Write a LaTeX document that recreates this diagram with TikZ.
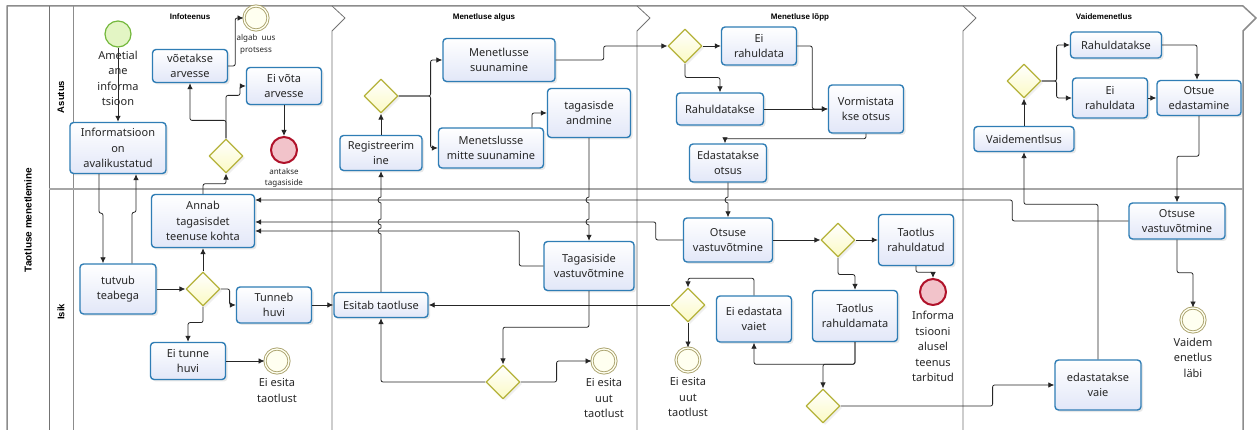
\documentclass[tikz,border=0pt]{standalone}
\usepackage{fontspec}
\setmainfont{Noto Sans}
\newfontfamily\titlefont{Liberation Sans}
\usetikzlibrary{arrows.meta, calc, positioning, shapes.geometric, shadows}

\definecolor{taskline}{HTML}{2F7DB5}
\definecolor{taskfill}{HTML}{E2E7F8}
\definecolor{gateline}{HTML}{B5B23A}
\definecolor{gatefill}{HTML}{FBFAC4}
\definecolor{startline}{HTML}{74B83C}
\definecolor{startfill}{HTML}{E3F5C4}
\definecolor{endline}{HTML}{A9A16C}
\definecolor{endfill}{HTML}{FFFFF0}
\definecolor{stopline}{HTML}{B0122A}
\definecolor{stopfill}{HTML}{F2C3CA}
\definecolor{poolline}{HTML}{8C8C8C}

\begin{document}
\begin{tikzpicture}[x=1pt, y=-1pt, >=Latex, line join=round,
	font=\fontsize{11}{15.5}\selectfont,
	task/.style={draw=taskline, line width=1.4pt, rounded corners=3.5pt,
		top color=white, bottom color=taskfill, align=center, inner sep=2pt, text=black!85,
		drop shadow={opacity=0.18, shadow xshift=2pt, shadow yshift=-2pt}},
	gate/.style={diamond, draw=gateline, line width=1.2pt, top color=white, bottom color=gatefill,
		minimum width=34pt, minimum height=34pt, inner sep=0pt,
		drop shadow={opacity=0.12, shadow xshift=2pt, shadow yshift=-2pt}},
	startev/.style={circle, draw=startline, line width=1.2pt, fill=startfill, minimum size=26pt, inner sep=0pt},
	endev/.style={circle, draw=endline, line width=0.9pt, double=endfill, double distance=1.3pt,
		fill=endfill, minimum size=24pt, inner sep=0pt},
	stopev/.style={circle, draw=stopline, line width=2pt, fill=stopfill, minimum size=26pt, inner sep=0pt},
	evtext/.style={align=center, inner sep=1pt, text=black!85},
	smalltext/.style={font=\fontsize{8}{11.5}\selectfont},
	flow/.style={draw=black!85, line width=0.8pt, -{Latex[length=6pt,width=5.5pt]}, rounded corners=2pt},
	phasetitle/.style={font=\titlefont\fontsize{8}{10}\selectfont\bfseries},
	lanetitle/.style={font=\titlefont\fontsize{9.5}{11}\selectfont\bfseries, rotate=90},
	pool/.style={draw=poolline, line width=1.5pt},
	phasesep/.style={draw=black!55, line width=0.8pt}]
	
	\fill[white] (0,0) rectangle (1259,430);
	\useasboundingbox (0,0) rectangle (1259,430);
	
	% ===== Pool, lanes and phases =====
	\draw[pool] (7,436) -- (7,6) -- (1243,6) -- (1256,18) -- (1243,31) -- (1243,436);
	\draw[phasesep] (49,6) -- (49,436);
	\draw[pool, line width=0.8pt] (73,6) -- (73,436);
	\draw[pool, draw=black!35, line width=1.6pt] (49,189) -- (1243,189);
	\foreach \sx in {332,637,963}
		\draw[phasesep] (\sx,6) -- (\sx+13,18) -- (\sx,31) -- (\sx,436);
	
	\node[lanetitle, font=\titlefont\fontsize{10}{12}\selectfont\bfseries] (pooltitle) at (28,220) {Taotluse menetlemine};
	\node[lanetitle] (lasutus) at (61,97) {Asutus};
	\node[lanetitle] (lisik) at (61,312) {Isik};
	\node[phasetitle] (ph1) at (190,17) {Infoteenus};
	\node[phasetitle] (ph2) at (484,17) {Menetluse algus};
	\node[phasetitle] (ph3) at (800,17) {Menetluse lõpp};
	\node[phasetitle] (ph4) at (1104,17) {Vaidemenetlus};
	
	% ===== Infoteenus =====
	\node[startev] (start) at (118,34) {};
	\node[evtext, below=2pt of start] (startlbl) {Ametial\\ane\\informa\\tsioon};
	\node[task, minimum width=96pt, minimum height=51pt] (info) at (118,148) {Informatsioon\\on\\avalikustatud};
	\node[task, minimum width=75pt, minimum height=33pt] (voetakse) at (190,66) {võetakse\\arvesse};
	\node[task, minimum width=75pt, minimum height=37pt] (eivota) at (284,86) {Ei võta\\arvesse};
	\node[endev] (algab) at (256,18) {};
	\node[evtext, smalltext, below=3pt of algab] (algablbl) {algab\ \ uus\\protsess};
	\node[gate] (gwB) at (226,156) {};
	\node[stopev] (antakse) at (284,150) {};
	\node[evtext, smalltext, below=3pt of antakse] (antakselbl) {antakse\\tagasiside};
	
	\node[task, minimum width=103pt, minimum height=53pt] (annab) at (203,221) {Annab\\tagasisdet\\teenuse kohta};
	\node[task, minimum width=76pt, minimum height=50pt] (tutvub) at (118,289) {tutvub\\teabega};
	\node[gate] (gwA) at (203,289) {};
	\node[task, minimum width=75pt, minimum height=36pt] (tunneb) at (274,305) {Tunneb\\huvi};
	\node[task, minimum width=75pt, minimum height=37pt] (eitunne) at (188,361) {Ei tunne\\huvi};
	\node[endev] (eiesita) at (277,361) {};
	\node[evtext, below=4pt of eiesita] (eiesitalbl) {Ei esita\\taotlust};
	
	% ===== Menetluse algus =====
	\node[gate] (gwC) at (381,96) {};
	\node[task, minimum width=112pt, minimum height=43pt] (suuna) at (499,60) {Menetlusse\\suunamine};
	\node[task, minimum width=82pt, minimum height=35pt] (reg) at (381,153) {Registreerim\\ine};
	\node[task, minimum width=105pt, minimum height=40pt] (mitte) at (491,148) {Menetslusse\\mitte suunamine};
	\node[task, minimum width=83pt, minimum height=49pt] (tagand) at (589,113) {tagasisde\\andmine};
	
	\node[task, minimum width=94pt, minimum height=25pt] (esitab) at (381,305) {Esitab taotluse};
	\node[task, minimum width=90pt, minimum height=49pt] (tagvast) at (589,266) {Tagasiside\\vastuvõtmine};
	\node[gate] (gwD) at (503,382) {};
	\node[endev] (uutA) at (604,361) {};
	\node[evtext, below=4pt of uutA] (uutAlbl) {Ei esita\\uut\\taotlust};
	
	% ===== Menetluse lõpp =====
	\node[gate] (gwE) at (685,46) {};
	\node[task, minimum width=75pt, minimum height=38pt] (eirahA) at (759,46) {Ei\\rahuldata};
	\node[task, minimum width=87pt, minimum height=32pt] (rahA) at (720,109) {Rahuldatakse};
	\node[task, minimum width=75pt, minimum height=48pt] (vorm) at (866,109) {Vormistata\\kse otsus};
	\node[task, minimum width=77pt, minimum height=38pt] (edast) at (728,163) {Edastatakse\\otsus};
	
	\node[task, minimum width=89pt, minimum height=44pt] (otsvastA) at (728,240) {Otsuse\\vastuvõtmine};
	\node[gate] (gwF) at (838,240) {};
	\node[task, minimum width=75pt, minimum height=51pt] (tatud) at (916,240) {Taotlus\\rahuldatud};
	\node[stopev] (informa) at (933,292) {};
	\node[evtext, below=4pt of informa] (informalbl) {Informa\\tsiooni\\alusel\\teenus\\tarbitud};
	\node[gate] (gwG) at (688,305) {};
	\node[endev] (uutB) at (688,360) {};
	\node[evtext, below=4pt of uutB] (uutBlbl) {Ei esita\\uut\\taotlust};
	\node[task, minimum width=75pt, minimum height=46pt] (eiedast) at (754,319) {Ei edastata\\vaiet};
	\node[task, minimum width=85pt, minimum height=51pt] (tmata) at (855,316) {Taotlus\\rahuldamata};
	\node[gate] (gwH) at (823,406) {};
	
	% ===== Vaidemenetlus =====
	\node[gate] (gwI) at (1024,81) {};
	\node[task, minimum width=91pt, minimum height=26pt] (rahB) at (1116,45) {Rahuldatakse};
	\node[task, minimum width=75pt, minimum height=40pt] (eirahB) at (1110,98) {Ei\\rahuldata};
	\node[task, minimum width=84pt, minimum height=35pt] (otsue) at (1199,98) {Otsue\\edastamine};
	\node[task, minimum width=100pt, minimum height=25pt] (vaidem) at (1024,139) {Vaidementlsus};
	
	\node[task, minimum width=96pt, minimum height=36pt] (otsvastB) at (1177,221) {Otsuse\\vastuvõtmine};
	\node[endev] (labi) at (1193,320) {};
	\node[evtext, below=4pt of labi] (labilbl) {Vaidem\\enetlus\\läbi};
	\node[task, minimum width=86pt, minimum height=50pt] (vaie) at (1098,385) {edastatakse\\vaie};
	
	% feedback levels into Annab
	\coordinate (fbA) at ([yshift=21pt]annab.east);
	\coordinate (fbB) at ([yshift=-1pt]annab.east);
	\coordinate (fbC) at ([yshift=-10pt]annab.east);
	
	% ===== Flows: Infoteenus =====
	\draw[flow] (start) -- (info);
	\draw[flow] ([xshift=-19pt]info.south) -- ++(0,39) -| ([xshift=-15pt]tutvub.north);
	\draw[flow] ([xshift=14pt]tutvub.north) -- ++(0,-51) -| ([xshift=18pt]info.south);
	\draw[flow] (tutvub) -- (gwA);
	\draw[flow] (gwA) -- (annab);
	\draw[flow] (gwA.east) -- ++(9,0) |- (tunneb.west);
	\draw[flow] (gwA.south) -- ++(0,16) -| (eitunne.north);
	\draw[flow] (eitunne) -- (eiesita);
	\draw[flow] (tunneb) -- (esitab);
	\draw[flow] (annab.north) -- ++(0,-10) -| (gwB.south);
	\draw[flow] (gwB.north) -- ++(0,-18) -| (voetakse.south);
	\draw[flow] (gwB.north) -- ++(0,-43) -- ++(14,0) |- (eivota.west);
	\draw[flow] (voetakse.east) -- ++(7,0) |- (algab.west);
	\draw[flow] (eivota) -- (antakse);
	
	% ===== Flows: Menetluse algus =====
	\draw[flow, sharp corners] (esitab.north)
		-- ($(esitab.north |- fbC)+(0,3)$) arc[start angle=270, end angle=90, radius=3pt]
		-- ($(esitab.north |- fbB)+(0,3)$) arc[start angle=270, end angle=90, radius=3pt]
		-- ($(esitab.north |- fbA)+(0,3)$) arc[start angle=270, end angle=90, radius=3pt]
		-- (reg.south);
	\draw[flow] (reg) -- (gwC);
	\draw[flow] (gwC.east) -- ++(32,0) |- (suuna.west);
	\draw[flow] (gwC.east) -- ++(32,0) |- (mitte.west);
	\draw[flow] ([xshift=41pt]mitte.north) |- (tagand.west);
	\draw[flow, sharp corners] (tagand.south)
		-- ($(tagand.south |- fbA)+(0,-3)$) arc[start angle=90, end angle=270, radius=3pt]
		-- ($(tagand.south |- fbB)+(0,-3)$) arc[start angle=90, end angle=270, radius=3pt]
		-- (tagvast.north);
	\draw[flow] (suuna.east) -- ++(48,0) |- (gwE.west);
	\draw[flow] (tagvast.south) -- ++(0,36) -| (gwD.north);
	\draw[flow] (gwD.west) -| (esitab.south);
	\draw[flow] (gwD.east) -- ++(36,0) |- (uutA.west);
	\draw[flow] (tagvast.west) -- ++(-24,0) |- (fbC);
	
	% ===== Flows: Menetluse lõpp =====
	\draw[flow] (gwE) -- (eirahA);
	\draw[flow] (gwE.south) -- ++(0,14) -| (rahA.north);
	\draw[flow] (rahA) -- (vorm);
	\draw[flow] (eirahA.east) -- ++(15,0) |- (vorm.west);
	\draw[flow] (vorm.south) -- ++(0,5) -| ([xshift=-3pt]edast.north);
	\draw[flow, sharp corners] (edast.south)
		-- ($(edast.south |- fbA)+(0,-3)$) arc[start angle=90, end angle=270, radius=3pt]
		-- (otsvastA.north);
	\draw[flow] (otsvastA) -- (gwF);
	\draw[flow] (gwF) -- (tatud);
	\draw[flow] (gwF.south) -- ++(0,17) -| (tmata.north);
	\draw[flow] (tatud.south) -- ++(0,6) -| (informa.north);
	\draw[flow] (tmata.south) -- ++(0,22) -| (gwH.north);
	\draw[flow] (tmata.south) -- ++(0,22) -| (eiedast.south);
	\draw[flow] (eiedast.north) -- ++(0,-17) -| (gwG.north);
	\draw[flow] (gwG) -- (uutB);
	\draw[flow] (gwG) -- (esitab);
	\draw[flow] (otsvastA.west) -- ++(-27,0) |- (fbB);
	\draw[flow] (gwH.east) -- ++(152,0) |- (vaie.west);
	
	% ===== Flows: Vaidemenetlus =====
	\draw[flow] (vaie.north) -- ++(0,-155) -| (vaidem.south);
	\draw[flow] (vaidem) -- (gwI);
	\draw[flow] (gwI.east) -- ++(15,0) |- (rahB.west);
	\draw[flow] (gwI.east) -- ++(15,0) |- (eirahB.west);
	\draw[flow] (rahB.east) -| ([xshift=-2pt]otsue.north);
	\draw[flow] (eirahB) -- (otsue);
	\draw[flow] (otsue.south) -- ++(0,40) -| (otsvastB.north);
	\draw[flow] (otsvastB.south) -- ++(0,33) -| (labi.north);
	\draw[flow] (otsvastB.west) -- ++(-116,0) |- (fbA);
	
\end{tikzpicture}
\end{document}
